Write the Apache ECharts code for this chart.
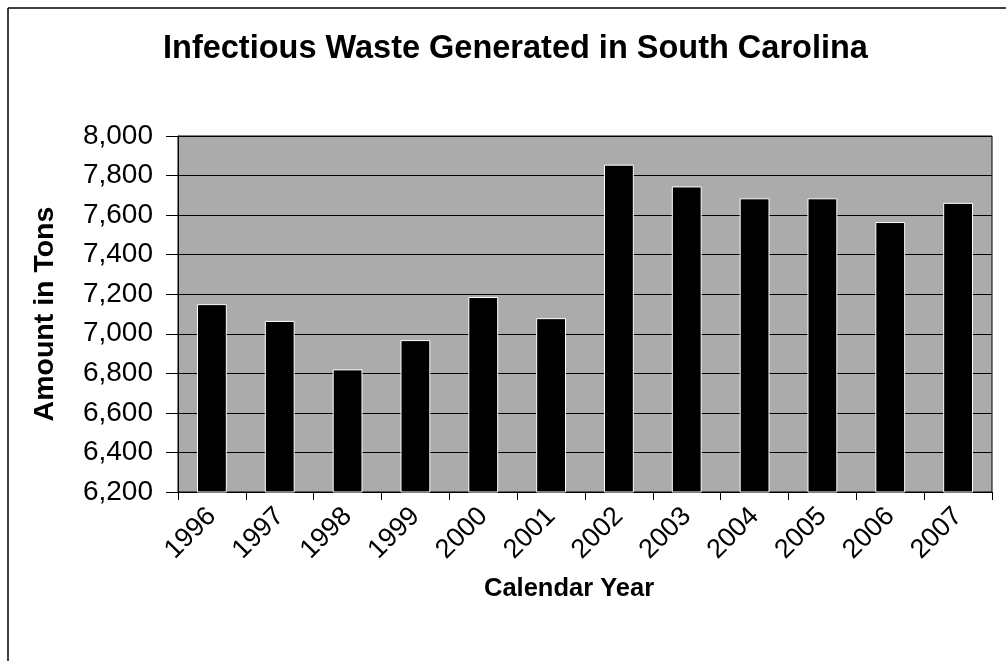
<!DOCTYPE html>
<html>
<head>
<meta charset="utf-8">
<script src="https://cdn.jsdelivr.net/npm/echarts@6/dist/echarts.min.js"></script>
<style>
html,body{margin:0;padding:0;background:#fff;}
#chart{width:1006px;height:661px;}
</style>
</head>
<body>
<div id="chart"></div>
<script>
const years = ['1996','1997','1998','1999','2000','2001','2002','2003','2004','2005','2006','2007'];
const tons = [7150, 7065, 6820, 6968, 7186, 7079, 7855, 7745, 7685, 7685, 7565, 7662];
const yTicks = {min: 6200, max: 8000, step: 200};
const titleText = 'Infectious Waste Generated in South Carolina';
const yName = 'Amount in Tons';
const xName = 'Calendar Year';

const chart = echarts.init(document.getElementById('chart'));
const font = '"Liberation Sans", Arial, sans-serif';
chart.setOption({
  animation: false,
  backgroundColor: '#ffffff',
  title: {
    text: titleText,
    left: 158,
    top: 28,
    textStyle: {fontFamily: font, fontSize: 32.5, fontWeight: 'bold', color: '#000'}
  },
  grid: {
    left: 178, right: 14, top: 136, bottom: 169,
    show: true, backgroundColor: '#ababab', borderColor: '#000', borderWidth: 1
  },
  xAxis: {
    type: 'category',
    data: years,
    axisLine: {lineStyle: {color: '#000', width: 1}},
    axisTick: {show: true, alignWithLabel: false, length: 8, lineStyle: {color: '#000'}},
    axisLabel: {rotate: 45, margin: 20, fontFamily: font, fontSize: 27, color: '#000'}
  },
  yAxis: {
    type: 'value',
    min: yTicks.min, max: yTicks.max, interval: yTicks.step,
    name: yName,
    nameLocation: 'middle',
    nameGap: 118,
    nameTextStyle: {fontFamily: font, fontSize: 28.5, fontWeight: 'bold', color: '#000'},
    axisLine: {show: true, lineStyle: {color: '#000', width: 1}},
    axisTick: {show: true, length: 12, lineStyle: {color: '#000'}},
    axisLabel: {margin: 25, fontFamily: font, fontSize: 28, color: '#000',
      formatter: v => v.toLocaleString('en-US')},
    splitLine: {show: true, lineStyle: {color: '#000', width: 1}}
  },
  series: [{
    type: 'bar',
    data: tons,
    barWidth: '44%',
    itemStyle: {color: '#000', borderColor: '#ffffff', borderWidth: 1}
  }],
  graphic: [
    {type: 'line', shape: {x1: 8, y1: 8, x2: 1006, y2: 8}, style: {stroke: '#000', lineWidth: 1.5}},
    {type: 'line', shape: {x1: 8, y1: 8, x2: 8, y2: 661}, style: {stroke: '#000', lineWidth: 1.5}},
    {type: 'text', left: 484, top: 576,
      style: {text: xName, font: 'bold 25.5px ' + font, fill: '#000'}}
  ]
});
</script>
</body>
</html>
